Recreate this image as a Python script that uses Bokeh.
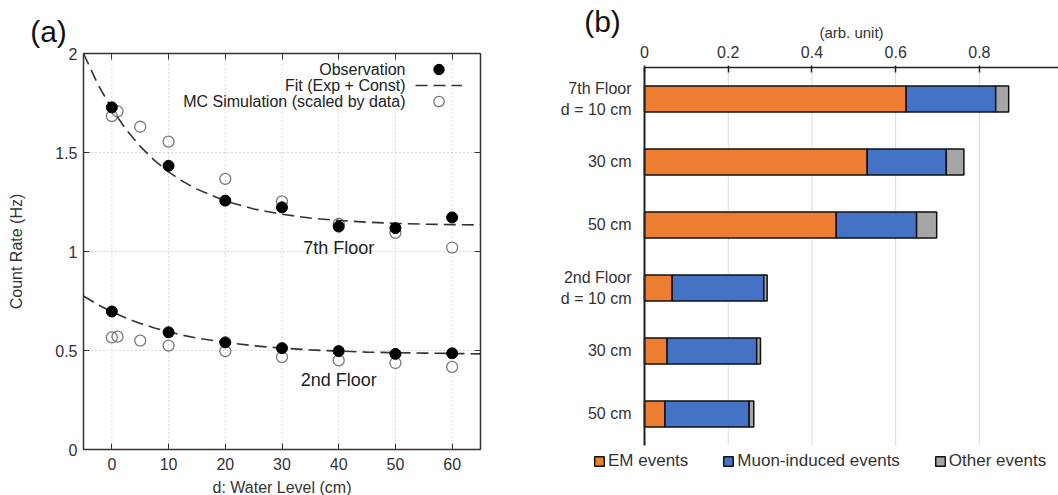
from bokeh.plotting import figure
from bokeh.models import (Range1d, FixedTicker, NumeralTickFormatter, LinearAxis, Label,
                          Legend, LegendItem, ColumnDataSource, CustomJSTickFormatter)
from bokeh.layouts import row
from bokeh.embed import file_html
from bokeh.resources import INLINE

FONT = "Liberation Sans"
TXT = "#333333"

# ---------------- panel (a) data ----------------
d_obs = [0, 10, 20, 30, 40, 50, 60]
obs_7th = [1.728, 1.433, 1.257, 1.223, 1.126, 1.118, 1.172]
obs_2nd = [0.697, 0.592, 0.541, 0.512, 0.497, 0.483, 0.486]

d_mc = [0, 1, 5, 10, 20, 30, 40, 50, 60]
mc_7th = [1.684, 1.708, 1.630, 1.555, 1.367, 1.253, 1.140, 1.094, 1.020]
mc_2nd = [0.566, 0.570, 0.550, 0.525, 0.497, 0.467, 0.450, 0.437, 0.417]

fit_d = [-5, -2.5, 0, 2.5, 5, 7.5, 10, 12.5, 15, 20, 25, 30, 35, 40, 45, 50, 55, 60, 65]
fit_7th = [2.000, 1.846, 1.720, 1.616, 1.531, 1.460, 1.402, 1.354, 1.315, 1.255, 1.215,
           1.188, 1.169, 1.157, 1.148, 1.142, 1.138, 1.136, 1.134]
fit_2nd = [0.775, 0.732, 0.695, 0.664, 0.637, 0.614, 0.594, 0.577, 0.563, 0.541, 0.524,
           0.512, 0.503, 0.497, 0.492, 0.489, 0.487, 0.485, 0.483]

x_ticks_a = [0, 10, 20, 30, 40, 50, 60]
y_ticks_a = [0, 0.5, 1, 1.5, 2]
legend_a = ["Observation", "Fit (Exp + Const)", "MC Simulation (scaled by data)"]

# ---------------- panel (b) data ----------------
rows = [0, 1, 2, 3, 4, 5]
row_labels = ["7th Floor\nd = 10 cm", "30 cm", "50 cm", "2nd Floor\nd = 10 cm", "30 cm", "50 cm"]
em = [0.625, 0.532, 0.458, 0.066, 0.054, 0.049]
muon = [0.214, 0.189, 0.192, 0.219, 0.214, 0.201]
other = [0.031, 0.042, 0.048, 0.008, 0.009, 0.011]
series_b = ["EM events", "Muon-induced events", "Other events"]
colors_b = ["#ED7D31", "#4472C4", "#A5A5A5"]
x_ticks_b = [0, 0.2, 0.4, 0.6, 0.8]

# ---------------- layout constants ----------------
XA_MIN, XA_MAX = -5, 65          # plotted box of panel (a)
YA_MIN, YA_MAX = 0, 2
XB_END = 0.989                   # right end of panel (b) axis line

blank = CustomJSTickFormatter(code="return ''")


def style_axis(ax, tick_in, tick_out):
    ax.axis_line_color = "#333333"
    ax.axis_line_width = 1.5
    ax.major_tick_in = tick_in
    ax.major_tick_out = tick_out
    ax.major_tick_line_color = "#333333"
    ax.minor_tick_line_color = None
    ax.major_label_text_font = FONT
    ax.major_label_text_font_size = "16px"
    ax.major_label_text_color = TXT
    ax.axis_label_text_font = FONT
    ax.axis_label_text_font_size = "16px"
    ax.axis_label_text_font_style = "normal"
    ax.axis_label_text_color = TXT


# ================= panel (a) =================
# frame fills the whole figure; the box is made of pinned axes
p1 = figure(width=560, height=495, x_range=Range1d(-19.636, 79.107),
            y_range=Range1d(-0.2323, 2.2677), output_backend="svg",
            toolbar_location=None, title=None,
            min_border_left=0, min_border_right=0, min_border_top=0, min_border_bottom=0)
p1.outline_line_color = None
p1.background_fill_color = "white"
p1.xgrid.visible = False
p1.ygrid.visible = False

# dotted grid inside the box
p1.segment(x0=x_ticks_a, x1=x_ticks_a, y0=YA_MIN, y1=YA_MAX,
           line_color="#b5b5b5", line_dash="1 3", line_width=1)
p1.segment(x0=XA_MIN, x1=XA_MAX, y0=y_ticks_a, y1=y_ticks_a,
           line_color="#b5b5b5", line_dash="1 3", line_width=1)

xb = p1.xaxis[0]
style_axis(xb, 6, 0)
xb.fixed_location = YA_MIN
xb.bounds = (XA_MIN, XA_MAX)
xb.ticker = FixedTicker(ticks=x_ticks_a)
xb.major_label_standoff = 8
xb.axis_label = "d: Water Level (cm)"
xb.axis_label_standoff = 6

yl = p1.yaxis[0]
style_axis(yl, 6, 0)
yl.fixed_location = XA_MIN
yl.bounds = (YA_MIN, YA_MAX)
yl.ticker = FixedTicker(ticks=y_ticks_a)
yl.formatter = NumeralTickFormatter(format="0.[0]")
yl.major_label_standoff = 6
yl.axis_label = "Count Rate (Hz)"
yl.axis_label_standoff = 27

top = LinearAxis(ticker=FixedTicker(ticks=x_ticks_a), formatter=blank,
                 fixed_location=YA_MAX, bounds=(XA_MIN, XA_MAX))
style_axis(top, 6, 0)
top.major_label_text_font_size = "1px"
top.major_label_standoff = 0
p1.add_layout(top, "above")

rgt = LinearAxis(ticker=FixedTicker(ticks=y_ticks_a), formatter=blank,
                 fixed_location=XA_MAX, bounds=(YA_MIN, YA_MAX))
style_axis(rgt, 6, 0)
rgt.major_label_text_font_size = "1px"
rgt.major_label_standoff = 0
p1.add_layout(rgt, "right")

mc7 = p1.scatter(d_mc, mc_7th, marker="circle", size=11, fill_color=None,
                 line_color="#7a7a7a", line_width=1.3)
p1.scatter(d_mc, mc_2nd, marker="circle", size=11, fill_color=None,
           line_color="#7a7a7a", line_width=1.3)
fit7 = p1.line(fit_d, fit_7th, line_color="#333333", line_width=1.6, line_dash="12 6")
p1.line(fit_d, fit_2nd, line_color="#333333", line_width=1.6, line_dash="12 6")
obs7 = p1.scatter(d_obs, obs_7th, marker="circle", size=11, fill_color="black", line_color="black")
p1.scatter(d_obs, obs_2nd, marker="circle", size=11, fill_color="black", line_color="black")

# gnuplot-style key: text right-aligned, sample to its right (one small legend per row)
for i, (t, r) in enumerate(zip(legend_a, [obs7, fit7, mc7])):
    lg = Legend(items=[LegendItem(label=" ", renderers=[r])],
                location=(415, 413 - 16 * i), glyph_width=47, glyph_height=26, label_width=0,
                label_height=26, label_standoff=0, padding=0, spacing=0, margin=0,
                background_fill_alpha=0, border_line_color=None, label_text_font_size="6px")
    p1.add_layout(lg)
    p1.add_layout(Label(x=405, y=426 - 16 * i, x_units="screen", y_units="screen", text=t,
                        text_align="right", text_baseline="middle", text_font=FONT,
                        text_font_size="16px", text_color="#222222"))

p1.add_layout(Label(x=40, y=1.02, text="7th Floor", text_align="center", text_baseline="middle",
                    text_font=FONT, text_font_size="18px", text_color="#222222"))
p1.add_layout(Label(x=40, y=0.353, text="2nd Floor", text_align="center", text_baseline="middle",
                    text_font=FONT, text_font_size="18px", text_color="#222222"))
p1.add_layout(Label(x=48, y=464, x_units="screen", y_units="screen", text="(a)",
                    text_align="center", text_baseline="middle", text_font=FONT,
                    text_font_size="30px", text_color="#111111"))

# ================= panel (b) =================
p2 = figure(width=498, height=495, x_range=Range1d(-0.2007, XB_END),
            y_range=Range1d(6.2937, -1.5635), x_axis_location="above",
            output_backend="svg", toolbar_location=None, title=None,
            min_border_left=0, min_border_right=0, min_border_top=0, min_border_bottom=0)
p2.outline_line_color = None
p2.background_fill_color = "white"
p2.xgrid.visible = False
p2.ygrid.visible = False

band_lo = rows[0] - 0.5
band_hi = rows[-1] + 0.5
p2.segment(x0=x_ticks_b[1:], x1=x_ticks_b[1:], y0=band_lo, y1=band_hi,
           line_color="#d9d9d9", line_width=1)

src = ColumnDataSource(dict(row=rows, em=em, muon=muon, other=other))
rs = p2.hbar_stack(["em", "muon", "other"], y="row", height=0.41, source=src,
                   fill_color=colors_b, line_color="#111111", line_width=1.5)

xa = p2.xaxis[0]
style_axis(xa, 5, 2)
xa.fixed_location = band_lo
xa.bounds = (0, XB_END)
xa.ticker = FixedTicker(ticks=x_ticks_b)
xa.formatter = NumeralTickFormatter(format="0.[0]")
xa.axis_line_color = "#222222"
xa.major_tick_line_color = "#222222"
xa.major_tick_line_width = 1.5
xa.major_label_standoff = 8
xa.axis_label = "(arb. unit)"
xa.axis_label_text_font_size = "15px"
xa.axis_label_standoff = 2

ya = p2.yaxis[0]
style_axis(ya, 0, 0)
ya.fixed_location = 0
ya.bounds = (band_lo, band_hi)
ya.ticker = FixedTicker(ticks=rows)
ya.major_label_overrides = {r: lab for r, lab in zip(rows, row_labels)}
ya.axis_line_color = "#222222"
ya.axis_line_width = 2
ya.major_tick_line_color = None
ya.major_label_standoff = 13

leg2 = Legend(items=[LegendItem(label=s, renderers=[r]) for s, r in zip(series_b, rs)],
              orientation="horizontal", location=(33, 24), glyph_width=12, glyph_height=12,
              label_height=18, label_standoff=3, spacing=34, padding=0, margin=0,
              background_fill_alpha=0, border_line_color=None,
              label_text_font=FONT, label_text_font_size="17px", label_text_color=TXT)
p2.add_layout(leg2)
p2.add_layout(Label(x=42, y=474, x_units="screen", y_units="screen", text="(b)",
                    text_align="center", text_baseline="middle", text_font=FONT,
                    text_font_size="30px", text_color="#111111"))

layout = row(p1, p2)
open("out.html", "w").write(file_html(layout, INLINE))
